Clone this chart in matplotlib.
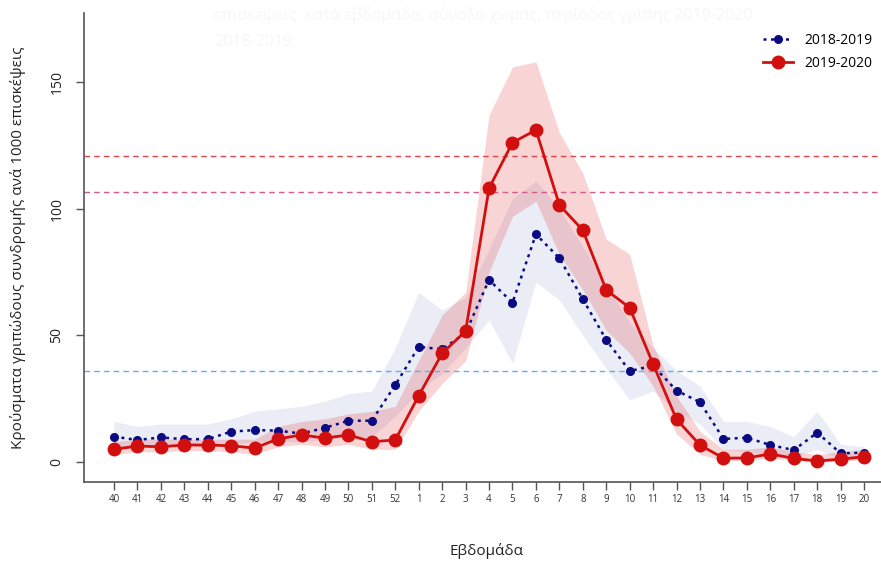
import matplotlib
matplotlib.use("Agg")
import matplotlib.pyplot as plt
import numpy as np

plt.rcParams['font.family'] = ['Open Sans', 'DejaVu Sans']

# surveillance weeks, season 40 -> 20
weeks = [40, 41, 42, 43, 44, 45, 46, 47, 48, 49, 50, 51, 52,
         1, 2, 3, 4, 5, 6, 7, 8, 9, 10, 11, 12, 13, 14, 15, 16, 17, 18, 19, 20]

# 2018-2019 rate per 1000 visits, with band limits
rate_1819 = [10.0, 8.7, 9.7, 9.0, 9.0, 12.0, 12.6, 12.4, 11.2, 13.5, 16.3, 16.3, 30.4,
             45.5, 44.5, 51.0, 71.9, 62.9, 89.9, 80.5, 64.3, 48.2, 35.9, 38.0, 28.2,
             23.6, 9.1, 9.6, 6.7, 4.7, 11.6, 3.4, 3.7]
hi_1819 = [16, 14, 15, 15, 15, 17, 20, 21, 22, 24, 27, 28, 45,
           67, 60, 65, 84, 104, 111, 100, 85, 70, 55, 45, 36,
           30, 16, 16, 14, 10, 20, 7, 6]
lo_1819 = [6, 6, 7, 6, 6, 7, 8, 8, 8, 9, 10, 10, 18,
           28, 35, 45, 56, 39, 71, 64, 50, 37, 24.5, 28, 20,
           15, 5, 4, 3, 2, 5, 1, 1]

# 2019-2020 rate per 1000 visits, with band limits
rate_1920 = [5.0, 6.3, 6.0, 6.7, 6.7, 6.4, 5.5, 9.1, 10.7, 9.4, 10.7, 8.0, 8.7,
             26.2, 42.9, 51.7, 108.1, 126.1, 131.1, 101.5, 91.5, 67.9, 60.9, 38.6, 16.8,
             6.7, 1.5, 1.6, 3.2, 1.4, 0.4, 1.1, 2.1]
hi_1920 = [8, 9, 9, 9, 9, 9, 9, 14, 16, 17, 19, 20, 22,
           40, 58, 67, 137, 156, 158, 130, 114, 88, 82, 46, 26,
           12, 5, 5, 6, 4, 3, 4, 5]
lo_1920 = [3, 4, 4, 4.5, 4.5, 4, 3, 6, 7, 6, 7, 5, 5,
           20, 31, 40, 75, 97, 103, 82, 68, 52, 43, 30, 11,
           3, 0.5, 0.5, 1.5, 0.5, 0, 0.3, 1]

# epidemic thresholds
thresholds = [120.8, 106.6, 35.9]
threshold_colors = ['#e2454b', '#d65a8c', '#5cb0ee']

x = np.arange(len(weeks))

fig = plt.figure(figsize=(8.81, 5.64), dpi=100)
ax = fig.add_axes([0.0953, 0.1454, 0.9047, 0.8316])

ax.fill_between(x, lo_1819, hi_1819, color='#1f2d9c', alpha=0.09, linewidth=0)
ax.fill_between(x, lo_1920, hi_1920, color='#e0292b', alpha=0.2, linewidth=0)

for t, c in zip(thresholds, threshold_colors):
    ax.axhline(t, color=c, linestyle=(0, (4, 3)), linewidth=1.0)

ax.plot(x, rate_1819, color='#0a0a82', linestyle=(0, (1.2, 1.8)), linewidth=1.8,
        marker='o', markersize=5.5, label='2018-2019')
ax.plot(x, rate_1920, color='#d20f0f', linestyle='-', linewidth=2.0,
        marker='o', markersize=9, label='2019-2020')

ax.set_xlim(-1.28, 32.72)
ax.set_ylim(-7.9, 177.3)

ax.set_xticks(x)
ax.set_xticklabels([str(w) for w in weeks], fontsize=7)
ax.set_yticks([0, 50, 100, 150])
ax.set_yticklabels(['0', '50', '100', '150'], fontsize=10, rotation=90, va='center')

for side in ['top', 'right']:
    ax.spines[side].set_visible(False)
for side in ['left', 'bottom']:
    ax.spines[side].set_color('#555555')
    ax.spines[side].set_linewidth(1.2)
ax.tick_params(axis='both', colors='#555555', length=6, width=1.0, direction='out')
ax.tick_params(axis='x', labelcolor='#333333', pad=3)
ax.tick_params(axis='y', labelcolor='#222222', pad=8)

ax.set_xlabel('Εβδομάδα', fontsize=11, color='#222222')
ax.xaxis.set_label_coords(0.5055, -0.147)
ax.xaxis.label.set_va('center')
ax.set_ylabel('Κρούσματα γριπώδους συνδρομής ανά 1000 επισκέψεις', fontsize=11,
              color='#222222')
ax.yaxis.set_label_coords(-0.073, 0.5)

ax.legend(loc='upper right', bbox_to_anchor=(1.0, 0.975), frameon=False,
          fontsize=10, handlelength=2.2, labelspacing=0.55, borderaxespad=0.2)

# faded heading behind the plot
fig.text(0.243, 0.972, 'επισκέψεις, κατά εβδομάδα, σύνολο χώρας, περίοδος γρίπης 2019-2020,',
         fontsize=11.5, color='#f7f7f7', va='center')
fig.text(0.243, 0.925, '2018-2019.', fontsize=11.5, color='#f7f7f7', va='center')

fig.savefig('out.png', dpi=100)
